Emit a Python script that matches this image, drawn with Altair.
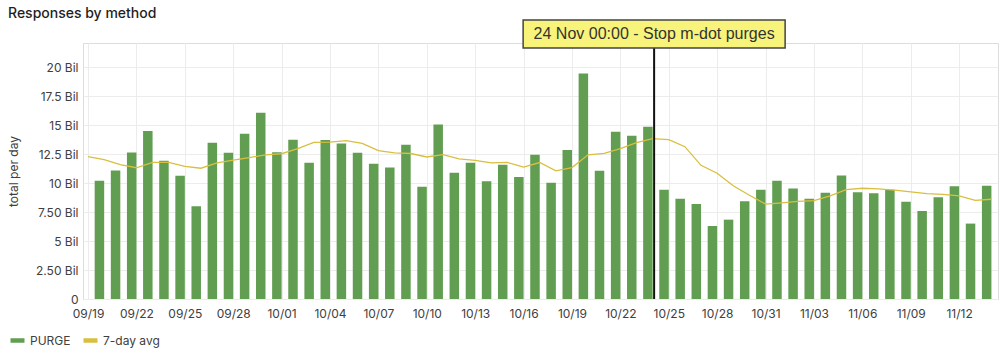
import altair as alt
import pandas as pd

# ---- data ----
days = pd.date_range("2023-09-19", periods=56).strftime("%Y-%m-%d").tolist()
purge = [10.2, 11.1, 12.65, 14.5, 11.94, 10.65, 8.0, 13.49, 12.63, 14.27,
         16.08, 12.66, 13.75, 11.77, 13.72, 13.43, 12.63, 11.68, 11.36, 13.32,
         9.7, 15.07, 10.9, 11.77, 10.16, 11.6, 10.53, 12.46, 10.04, 12.86,
         19.47, 11.08, 14.44, 14.1, 14.87, 9.44, 8.66, 8.2, 6.3, 6.85,
         8.43, 9.44, 10.2, 9.53, 8.66, 9.18, 10.67, 9.21, 9.12, 9.44,
         8.4, 7.6, 8.78, 9.73, 6.51, 9.78]
# 7-day average, one point per day end (first point is the day before 09/19)
avg_days = pd.date_range("2023-09-19", periods=57).strftime("%Y-%m-%d").tolist()
avg7 = [12.3, 12.03, 11.6, 11.33, 11.8, 11.8, 11.45,
        11.29, 11.76, 11.98, 12.21, 12.44, 12.54, 12.98, 13.52, 13.55, 13.67,
        13.43, 12.81, 12.62, 12.56, 12.26, 12.46, 12.09, 11.97, 11.75, 11.79,
        11.39, 11.78, 11.07, 11.35, 12.45, 12.58, 12.98, 13.49, 13.84, 13.75,
        13.15, 11.54, 10.86, 9.77, 8.96, 8.19, 8.30, 8.42, 8.49, 8.90,
        9.44, 9.56, 9.51, 9.40, 9.24, 9.09, 9.03, 8.90, 8.51, 8.61]
series_names = ["PURGE", "7-day avg"]
series_colors = ["#629e51", "#d8bf3f"]
x_tick_days = pd.date_range("2023-09-19", periods=19, freq="3D").strftime("%Y-%m-%d").tolist()
y_ticks = [0, 2.5, 5, 7.5, 10, 12.5, 15, 17.5, 20]
y_tick_labels = ["0", "2.50 Bil", "5 Bil", "7.50 Bil", "10 Bil", "12.5 Bil", "15 Bil", "17.5 Bil", "20 Bil"]
annotation_time = "2023-10-24T02:15:00"
annotation_text = "24 Nov 00:00 - Stop m-dot purges"
title_text = "Responses by method"
y_title = "total per day"

# ---- tables ----
bar_df = pd.DataFrame({
    "t": [(pd.Timestamp(d) + pd.Timedelta(hours=17)).strftime("%Y-%m-%dT%H:%M:%S") for d in days],
    "v": purge,
    "series": series_names[0],
})
line_df = pd.DataFrame({
    "t": [pd.Timestamp(d).strftime("%Y-%m-%dT%H:%M:%S") for d in avg_days],
    "v": avg7,
    "series": series_names[1],
})
ann_df = pd.DataFrame({"t": [annotation_time], "label": [annotation_text]})
title_df = pd.DataFrame({"label": [title_text]})


def dt(s):
    ts = pd.Timestamp(s)
    return alt.DateTime(year=ts.year, month=ts.month, date=ts.day, hours=ts.hour, minutes=ts.minute)


x_scale = alt.Scale(domain=[dt("2023-09-19T00:00"), dt("2023-11-14T02:25")], nice=False)
y_scale = alt.Scale(domain=[0, 22.1], nice=False, zero=True)
label_arr = "[" + ",".join("'%s'" % s for s in y_tick_labels) + "]"

FONT = "Inter"
TXT = "#404040"

x_axis = alt.Axis(
    values=[dt(d) for d in x_tick_days], format="%m/%d", title=None,
    domain=False, ticks=False, tickSize=0, labelPadding=9, labelFlush=False,
    labelOverlap=False, labelFontSize=12, labelColor=TXT, labelFont=FONT,
    grid=True, gridColor="#ececec",
)
y_axis = alt.Axis(
    values=y_ticks, labelExpr=label_arr + "[round(datum.value / 2.5)]",
    domain=False, ticks=False, tickSize=0, labelPadding=5, labelOverlap=False,
    labelFontSize=12, labelColor=TXT, labelFont=FONT,
    grid=True, gridColor="#ececec",
    title=y_title, titleFont=FONT, titleFontSize=12, titleFontWeight="normal",
    titleColor=TXT, titleX=-66, titleY=128, titleAngle=-90,
    titleAlign="center", titleBaseline="alphabetic",
)

bars = alt.Chart(bar_df).mark_bar(width=9.5, color=series_colors[0]).encode(
    x=alt.X("t:T", scale=x_scale, axis=x_axis),
    y=alt.Y("v:Q", scale=y_scale, axis=y_axis),
)

line = alt.Chart(line_df).mark_line(strokeWidth=1.3).encode(
    x=alt.X("t:T", scale=x_scale, axis=x_axis),
    y=alt.Y("v:Q", scale=y_scale, axis=y_axis),
    color=alt.Color(
        "series:N",
        scale=alt.Scale(domain=series_names, range=series_colors),
        legend=alt.Legend(
            title=None, orient="none", legendX=-75, legendY=288,
            direction="horizontal", symbolType="stroke", symbolStrokeWidth=4.5,
            symbolSize=196, labelFontSize=12, labelColor=TXT, labelFont=FONT,
            columnPadding=3, labelOffset=3, padding=0, gridAlign="none",
        ),
    ),
)

rule = alt.Chart(ann_df).mark_rule(color="#111111", strokeWidth=2).encode(
    x=alt.X("t:T", scale=x_scale),
    y=alt.value(5),
    y2=alt.value(256),
)

box = alt.Chart(ann_df).mark_bar(
    width=262, fill="#f8f37a", stroke="#444444", strokeWidth=1.5, cornerRadius=0
).encode(
    x=alt.X("t:T", scale=x_scale),
    y=alt.value(-23),
    y2=alt.value(5),
)

text = alt.Chart(ann_df).mark_text(
    font="Liberation Sans", fontSize=16, color="#333333", align="center", baseline="middle"
).encode(
    x=alt.X("t:T", scale=x_scale),
    y=alt.value(-9),
    text="label:N",
)

title = alt.Chart(title_df).mark_text(
    font=FONT, fontSize=14, fontWeight=500, color="#1e1e1e",
    align="left", baseline="alphabetic",
).encode(
    x=alt.value(-75),
    y=alt.value(-25),
    text="label:N",
)

chart = alt.layer(bars, line, rule, box, text, title).properties(
    width=915, height=256,
    autosize="none",
    padding={"left": 83, "top": 43, "right": 2, "bottom": 56},
).configure_view(stroke=None).configure(background="white")

chart.save("out.html", embed_options={"renderer": "svg", "actions": False})
